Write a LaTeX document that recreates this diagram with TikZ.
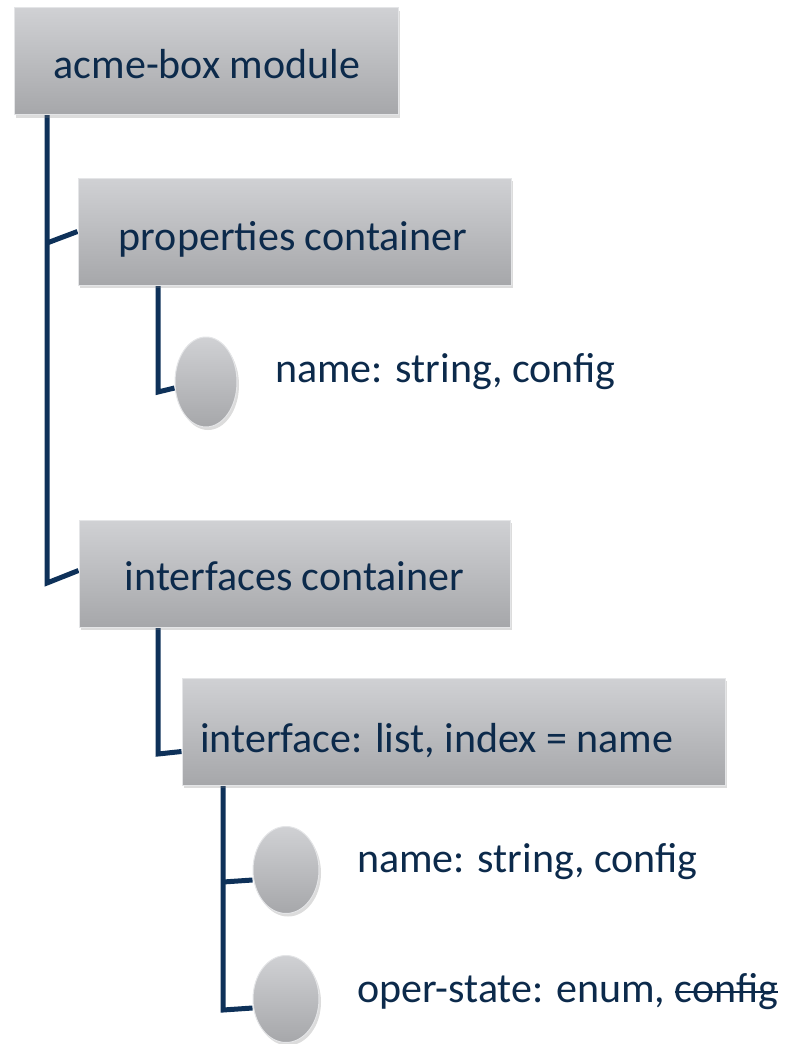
\documentclass[tikz,border=0pt]{standalone}
\usepackage{fontspec}
\setmainfont{Carlito}
\newcommand{\strikeword}[1]{\begingroup\setbox0\hbox{#1}\rlap{\rule[0.21em]{\wd0}{2pt}}\box0\endgroup}
\usetikzlibrary{shapes.geometric,shadows,backgrounds}
\definecolor{linec}{HTML}{0E3159}
\definecolor{textc}{HTML}{0C2A4B}
\definecolor{boxtop}{HTML}{D0D1D4}
\definecolor{boxbot}{HTML}{A6A7AA}
\definecolor{boxedge}{HTML}{E4E5E7}
\tikzset{
  shade/.style={draw=boxedge, line width=1pt, top color=boxtop, bottom color=boxbot,
    drop shadow={shadow xshift=2pt, shadow yshift=-3pt, opacity=0.28}},
  boxnode/.style={rectangle, shade, inner sep=0pt, minimum height=107pt},
  bubble/.style={ellipse, shade, inner sep=0pt},
  lbl/.style={text=textc, font=\fontsize{42}{50}\selectfont, inner sep=0pt},
  conn/.style={draw=linec, line width=5pt, line join=miter}
}
\begin{document}
\begin{tikzpicture}[x=1pt,y=-1pt]
\useasboundingbox (0,0) rectangle (788,1044);
% boxes
\node[boxnode, minimum width=384pt] (box1) at (206,61) {};
\node[boxnode, minimum width=433pt] (box2) at (294.5,231.5) {};
\node[boxnode, minimum width=431pt] (box3) at (294.5,573.5) {};
\node[boxnode, minimum width=543pt] (box4) at (453.5,731.5) {};
% bubbles
\node[bubble, minimum width=62pt, minimum height=90pt] (circ1) at (206,382) {};
\node[bubble, minimum width=66pt, minimum height=87pt] (circ2) at (286,870) {};
\node[bubble, minimum width=66pt, minimum height=87pt] (circ3) at (286,999) {};
% labels
\node[lbl, anchor=base] (lab1) at (207,78) {acme-box module};
\node[lbl, anchor=base] (lab2) at (293,250) {properties container};
\node[lbl, anchor=base] (lab3) at (294.5,590) {interfaces container};
\node[lbl, anchor=base west] (lab4) at (200,752) {interface: list, index = name};
\node[lbl, anchor=base west] (t1) at (275,382) {name: string, config};
\node[lbl, anchor=base west] (t2) at (357,872) {name: string, config};
\node[lbl, anchor=base west] (t3) at (357,1002) {oper-state: enum, \strikeword{config}};
% connector corners
\coordinate (a1) at (47,243);
\coordinate (a2) at (47,583);
\coordinate (c1) at (158,392);
\coordinate (d1) at (158,754);
\coordinate (e1) at (223,882);
\coordinate (e2) at (223,1010);
\begin{scope}[on background layer]
\draw[conn] (box1.south -| a1) -- (a2) -- ([yshift=3pt]box3.west);
\draw[conn] (a1) -- (box2.west);
\draw[conn] (box2.south -| c1) -- (c1) -- ([yshift=-6pt]circ1.west);
\draw[conn] (box3.south -| d1) -- (d1) -- ([yshift=-20pt]box4.west);
\draw[conn] (box4.south -| e2) -- (e2) -- ([yshift=-9pt]circ3.west);
\draw[conn] (e1) -- ([yshift=-10pt]circ2.west);
\end{scope}
\end{tikzpicture}
\end{document}
